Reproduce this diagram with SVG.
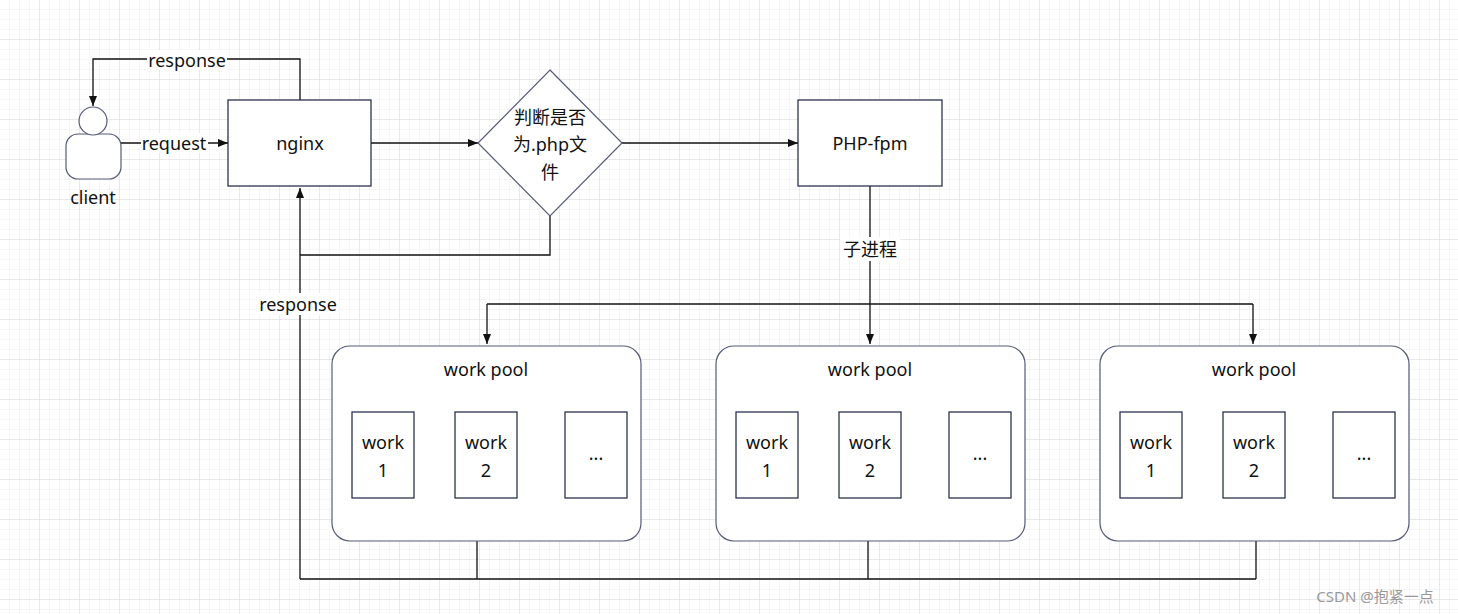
<svg xmlns="http://www.w3.org/2000/svg" width="1458" height="614" viewBox="0 0 1458 614">
<defs>
<pattern id="g" width="10" height="10" patternUnits="userSpaceOnUse"><path d="M10 0V10H0" fill="none" stroke="#ececec" stroke-width="1"/></pattern>
<pattern id="G" width="40" height="40" patternUnits="userSpaceOnUse"><rect width="40" height="40" fill="url(#g)"/><path d="M40 0V40H0" fill="none" stroke="#dcdcdc" stroke-width="1"/></pattern>
<marker id="a" viewBox="0 0 10 10" refX="10" refY="5" markerWidth="8" markerHeight="8" orient="auto"><path d="M0 1L10 5L0 9z" fill="#111"/></marker>
</defs>
<style>
text{font-family:"Noto Sans","Noto Sans CJK SC",sans-serif;font-size:18px;fill:#111;text-anchor:middle;dominant-baseline:central}
.b{fill:#fff;stroke:#1a2340;stroke-width:1.2}
.p{fill:#fff;stroke:#555a78;stroke-width:1.2}
.c{fill:none;stroke:#111;stroke-width:1.3}
.l{fill:#fff}
</style>
<rect width="1458" height="614" fill="#fff"/>
<rect width="1458" height="614" fill="url(#G)"/>
<g id="connectors">
<path class="c" d="M300 100V59H93V106" marker-end="url(#a)"/>
<path class="c" d="M121 143H228" marker-end="url(#a)"/>
<path class="c" d="M371 143H478" marker-end="url(#a)"/>
<path class="c" d="M622 143H798" marker-end="url(#a)"/>
<path class="c" d="M550 216V255H300"/>
<path class="c" d="M300 579V188" marker-end="url(#a)"/>
<path class="c" d="M300 579H1256M477 541V579M868 541V579M1256 541V579" stroke-width="2"/>
<path class="c" d="M870 186V344" marker-end="url(#a)"/>
<path class="c" d="M487 304H1253"/>
<path class="c" d="M487 304V344" marker-end="url(#a)"/>
<path class="c" d="M1253 304V344" marker-end="url(#a)"/>
<rect class="l" x="147" y="50" width="80" height="20"/><text x="187" y="60">response</text>
<rect class="l" x="141" y="133" width="67" height="20"/><text x="174" y="143">request</text>
<rect class="l" x="257" y="293" width="82" height="22"/><text x="298" y="304">response</text>
<rect class="l" x="840" y="237" width="60" height="24"/><text x="870" y="249">子进程</text>
</g>
<g id="client">
<rect class="p" x="66" y="134" width="55" height="45" rx="12"/>
<circle class="p" cx="93" cy="121" r="14"/>
<text x="93" y="197">client</text>
</g>
<g id="nginx"><rect class="b" x="228" y="100" width="143" height="86"/><text x="300" y="143">nginx</text></g>
<g id="decision"><path class="p" d="M550 70L622 143L550 216L478 143z"/>
<text x="550" y="117">判断是否</text><text x="550" y="144">为.php文</text><text x="550" y="172">件</text></g>
<g id="phpfpm"><rect class="b" x="798" y="100" width="144" height="86"/><text x="870" y="143">PHP-fpm</text></g>
<g id="pool1"><rect class="p" x="332" y="346" width="309" height="195" rx="18"/><text x="486" y="369">work pool</text>
<rect class="b" x="352" y="412" width="62" height="86"/><text x="383" y="442">work</text><text x="383" y="470">1</text>
<rect class="b" x="455" y="412" width="62" height="86"/><text x="486" y="442">work</text><text x="486" y="470">2</text>
<rect class="b" x="565" y="412" width="62" height="86"/><text x="596" y="453">...</text></g>
<g id="pool2" transform="translate(384,0)"><rect class="p" x="332" y="346" width="309" height="195" rx="18"/><text x="486" y="369">work pool</text>
<rect class="b" x="352" y="412" width="62" height="86"/><text x="383" y="442">work</text><text x="383" y="470">1</text>
<rect class="b" x="455" y="412" width="62" height="86"/><text x="486" y="442">work</text><text x="486" y="470">2</text>
<rect class="b" x="565" y="412" width="62" height="86"/><text x="596" y="453">...</text></g>
<g id="pool3" transform="translate(768,0)"><rect class="p" x="332" y="346" width="309" height="195" rx="18"/><text x="486" y="369">work pool</text>
<rect class="b" x="352" y="412" width="62" height="86"/><text x="383" y="442">work</text><text x="383" y="470">1</text>
<rect class="b" x="455" y="412" width="62" height="86"/><text x="486" y="442">work</text><text x="486" y="470">2</text>
<rect class="b" x="565" y="412" width="62" height="86"/><text x="596" y="453">...</text></g>
<text x="1375" y="596" style="font-size:15px;fill:#999">CSDN @抱紧一点</text>
</svg>
